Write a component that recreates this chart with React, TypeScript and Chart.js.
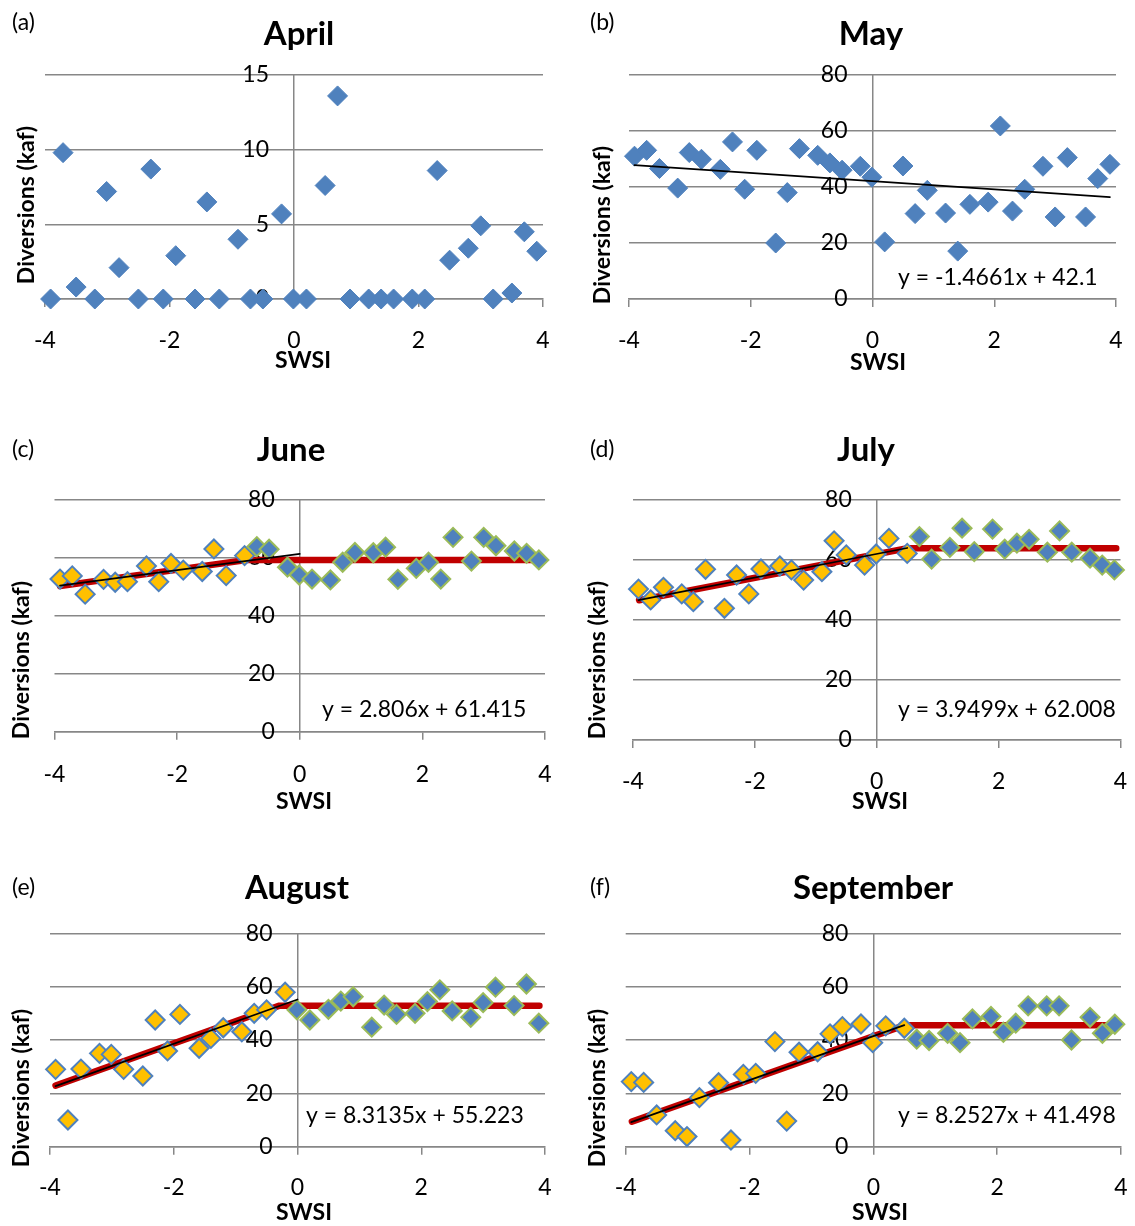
import React, { useEffect, useRef } from "react";
import { Chart, registerables } from "chart.js";

Chart.register(...registerables);

// ---------------- DATA ----------------
const SWSI = [
  -3.91, -3.71, -3.5, -3.2, -3.01, -2.81, -2.5, -2.3, -2.1, -1.9, -1.59, -1.4, -1.2, -0.9, -0.7, -0.5, -0.2, -0.01,
  0.2, 0.5, 0.7, 0.9, 1.2, 1.4, 1.6, 1.9, 2.1, 2.3, 2.5, 2.8, 3.0, 3.2, 3.5, 3.7, 3.9,
];

const APRIL = [
  0, 9.8, 0.8, 0, 7.2, 2.1, 0, 8.7, 0, 2.9, 0, 6.5, 0, 4.0, 0, 0, 5.7, 0,
  0, 7.6, 13.6, 0, 0, 0, 0, 0, 0, 8.6, 2.6, 3.4, 4.9, 0, 0.4, 4.5, 3.2,
];
const MAY = [
  51.0, 53.1, 46.6, 39.6, 52.3, 49.9, 46.3, 56.1, 39.2, 53.1, 20.0, 38.0, 53.7, 51.3, 48.6, 46.0, 47.4, 43.5,
  20.4, 47.5, 30.5, 38.8, 30.7, 17.1, 33.8, 34.6, 61.8, 31.4, 39.2, 47.4, 29.3, 50.5, 29.3, 43.0, 48.1,
];
const JUNE = [
  52.7, 53.8, 47.5, 52.6, 51.6, 51.8, 57.2, 51.8, 58.1, 55.8, 55.3, 63.1, 53.9, 60.8, 63.9, 63.0, 56.8, 54.1,
  52.7, 52.4, 58.5, 61.9, 61.8, 63.7, 52.6, 56.4, 58.5, 52.7, 67.1, 58.9, 67.1, 64.2, 62.4, 61.6, 59.3,
];
const JULY = [
  50.3, 46.7, 50.9, 48.7, 46.1, 56.9, 43.9, 55.0, 48.7, 57.0, 58.0, 56.7, 53.3, 56.1, 66.4, 61.7, 58.3, 62.0,
  67.2, 62.2, 67.8, 60.3, 64.2, 70.6, 62.8, 70.3, 63.6, 65.6, 66.9, 62.6, 69.7, 62.6, 60.6, 58.3, 56.7,
];
const AUGUST = [
  29.0, 10.0, 29.1, 35.0, 34.6, 29.0, 26.5, 47.5, 35.9, 49.6, 36.9, 40.6, 44.6, 43.1, 50.0, 51.3, 57.9, 51.3,
  47.5, 51.5, 54.6, 56.2, 44.8, 53.1, 49.6, 50.0, 54.4, 58.8, 50.9, 48.5, 54.0, 59.8, 52.9, 61.0, 46.3,
];
const SEPTEMBER = [
  24.4, 24.1, 11.9, 6.0, 3.8, 18.4, 24.0, 2.5, 27.1, 27.5, 39.4, 9.6, 35.4, 35.6, 42.3, 45.0, 46.0, 39.0,
  45.3, 44.4, 40.3, 39.8, 42.5, 39.0, 47.9, 48.8, 42.9, 46.3, 52.8, 52.8, 52.8, 40.0, 48.5, 42.5, 45.9,
];

// number of "dry" (yellow) points at the start of each month
const JUNE_SPLIT = 14;
const JULY_SPLIT = 20;
const AUGUST_SPLIT = 17;
const SEPTEMBER_SPLIT = 20;

// piecewise (red) model lines
const JUNE_MODEL_X = [-3.91, -0.87, 3.88];
const JUNE_MODEL_Y = [50.3, 59.3, 59.3];
const JULY_MODEL_X = [-3.9, 0.5, 3.93];
const JULY_MODEL_Y = [46.6, 63.9, 63.9];
const AUGUST_MODEL_X = [-3.91, -0.3, 3.91];
const AUGUST_MODEL_Y = [22.9, 52.8, 52.8];
const SEPTEMBER_MODEL_X = [-3.9, 0.5, 3.93];
const SEPTEMBER_MODEL_Y = [9.4, 45.5, 45.5];

// linear trend (black) lines
const MAY_TREND_X = [-3.91, 3.9];
const MAY_TREND_Y = [47.8, 36.4];
const JUNE_TREND_X = [-3.91, 0.0];
const JUNE_TREND_Y = [50.4, 61.4];
const JULY_TREND_X = [-3.91, 0.5];
const JULY_TREND_Y = [46.6, 64.0];
const AUGUST_TREND_X = [-3.91, 0.0];
const AUGUST_TREND_Y = [22.7, 55.2];
const SEPTEMBER_TREND_X = [-3.91, 0.5];
const SEPTEMBER_TREND_Y = [9.2, 45.6];

const EQUATIONS = {
  may: "y = -1.4661x + 42.1",
  june: "y = 2.806x + 61.415",
  july: "y = 3.9499x + 62.008",
  august: "y = 8.3135x + 55.223",
  september: "y = 8.2527x + 41.498",
};

const X_MIN = -4;
const X_MAX = 4;
const X_STEP = 2;

// ---------------- STYLE ----------------
const FONT = "Lato, 'Open Sans', sans-serif";
const BLUE = "#4F81BD";
const YELLOW = "#FFC000";
const GREEN = "#9BBB59";
const RED = "#C00000";
const GRID = "#878787";

const pts = (xs: number[], ys: number[]) => xs.map((x, i) => ({ x, y: ys[i] }));

function plainSet(vals: number[]) {
  return {
    data: pts(SWSI, vals),
    pointStyle: "rectRot",
    pointRadius: 10,
    backgroundColor: BLUE,
    borderColor: BLUE,
    borderWidth: 1,
    order: 2,
    clip: false,
  };
}
function lineSet(xs: number[], ys: number[], color: string, width: number, order: number) {
  return {
    data: pts(xs, ys),
    showLine: true,
    pointRadius: 0,
    borderColor: color,
    backgroundColor: color,
    borderWidth: width,
    borderCapStyle: "round",
    order,
    clip: false,
  };
}
function splitSets(vals: number[], split: number, mx: number[], my: number[], tx: number[], ty: number[]) {
  return [
    lineSet(mx, my, RED, 6.5, 4),
    {
      data: pts(SWSI.slice(0, split), vals.slice(0, split)),
      pointStyle: "rectRot",
      pointRadius: 9.5,
      backgroundColor: YELLOW,
      borderColor: BLUE,
      borderWidth: 2,
      order: 3,
      clip: false,
    },
    {
      data: pts(SWSI.slice(split), vals.slice(split)),
      pointStyle: "rectRot",
      pointRadius: 9.5,
      backgroundColor: BLUE,
      borderColor: GREEN,
      borderWidth: 2,
      order: 2,
      clip: false,
    },
    lineSet(tx, ty, "#000000", 1.75, 1),
  ];
}

type Panel = {
  key: string;
  letter: string;
  title: string;
  x: number;
  y: number;
  w: number;
  h: number;
  area: { l: number; r: number; t: number; b: number };
  yMax: number;
  yStep: number;
  titleX: number;
  titleY: number;
  letterX: number;
  letterY: number;
  yTitleX: number;
  yTitleY: number;
  swsiX: number;
  swsiY: number;
  labelY: number;
  eq: string | null;
  eqX: number;
  eqY: number;
  datasets: any[];
};

const PANELS: Panel[] = [
  {
    key: "a", letter: "(a)", title: "April", x: 0, y: 0, w: 567, h: 400,
    area: { l: 45, r: 543, t: 75, b: 299 }, yMax: 15, yStep: 5,
    titleX: 299, titleY: 34, letterX: 12, letterY: 23, yTitleX: 27, yTitleY: 205,
    swsiX: 303, swsiY: 361, labelY: 341, eq: null, eqX: 0, eqY: 0,
    datasets: [plainSet(APRIL)],
  },
  {
    key: "b", letter: "(b)", title: "May", x: 567, y: 0, w: 568, h: 400,
    area: { l: 629, r: 1116, t: 75, b: 299 }, yMax: 80, yStep: 20,
    titleX: 871, titleY: 34, letterX: 590, letterY: 23, yTitleX: 603, yTitleY: 225,
    swsiX: 878, swsiY: 363, labelY: 341, eq: EQUATIONS.may, eqX: 898, eqY: 278,
    datasets: [plainSet(MAY), lineSet(MAY_TREND_X, MAY_TREND_Y, "#000000", 1.75, 1)],
  },
  {
    key: "c", letter: "(c)", title: "June", x: 0, y: 400, w: 567, h: 430,
    area: { l: 54.5, r: 545, t: 500, b: 731.7 }, yMax: 80, yStep: 20,
    titleX: 291, titleY: 450, letterX: 12, letterY: 450, yTitleX: 22, yTitleY: 660,
    swsiX: 304, swsiY: 802, labelY: 775, eq: EQUATIONS.june, eqX: 322, eqY: 710,
    datasets: splitSets(JUNE, JUNE_SPLIT, JUNE_MODEL_X, JUNE_MODEL_Y, JUNE_TREND_X, JUNE_TREND_Y),
  },
  {
    key: "d", letter: "(d)", title: "July", x: 567, y: 400, w: 568, h: 430,
    area: { l: 633, r: 1120.5, t: 500, b: 740 }, yMax: 80, yStep: 20,
    titleX: 866, titleY: 450, letterX: 590, letterY: 450, yTitleX: 598, yTitleY: 660,
    swsiX: 880, swsiY: 802, labelY: 782, eq: EQUATIONS.july, eqX: 898, eqY: 710,
    datasets: splitSets(JULY, JULY_SPLIT, JULY_MODEL_X, JULY_MODEL_Y, JULY_TREND_X, JULY_TREND_Y),
  },
  {
    key: "e", letter: "(e)", title: "August", x: 0, y: 830, w: 567, h: 396,
    area: { l: 50, r: 545, t: 933.3, b: 1146.7 }, yMax: 80, yStep: 20,
    titleX: 297, titleY: 888, letterX: 12, letterY: 888, yTitleX: 22, yTitleY: 1088,
    swsiX: 304, swsiY: 1213, labelY: 1188, eq: EQUATIONS.august, eqX: 306, eqY: 1116,
    datasets: splitSets(AUGUST, AUGUST_SPLIT, AUGUST_MODEL_X, AUGUST_MODEL_Y, AUGUST_TREND_X, AUGUST_TREND_Y),
  },
  {
    key: "f", letter: "(f)", title: "September", x: 567, y: 830, w: 568, h: 396,
    area: { l: 625.7, r: 1121, t: 933.3, b: 1146.7 }, yMax: 80, yStep: 20,
    titleX: 873, titleY: 888, letterX: 590, letterY: 888, yTitleX: 598, yTitleY: 1088,
    swsiX: 880, swsiY: 1213, labelY: 1188, eq: EQUATIONS.september, eqX: 898, eqY: 1116,
    datasets: splitSets(SEPTEMBER, SEPTEMBER_SPLIT, SEPTEMBER_MODEL_X, SEPTEMBER_MODEL_Y, SEPTEMBER_TREND_X, SEPTEMBER_TREND_Y),
  },
];

const TICK_SIZE = 23;
const TICK_LH = TICK_SIZE * 1.2;

function makeConfig(p: Panel): any {
  const xAxisH = p.y + p.h - p.area.b;
  const textPlugin = {
    id: "panelText" + p.key,
    beforeDraw(chart: any) {
      const ax = chart.scales.x.getPixelForValue(0);
      chart.scales.y.getLabelItems(chart.chartArea).forEach((it: any) => {
        it.options.translation[0] = ax - 25;
        it.options.textAlign = "right";
      });
      chart.scales.x.getLabelItems(chart.chartArea).forEach((it: any) => {
        it.options.translation[1] = p.labelY - p.y - it.textOffset;
      });
    },
    afterDraw(chart: any) {
      const ctx = chart.ctx as CanvasRenderingContext2D;
      ctx.save();
      ctx.fillStyle = "#000";
      ctx.textBaseline = "middle";
      ctx.font = `${TICK_SIZE}px ${FONT}`;
      ctx.textAlign = "left";
      ctx.fillText(p.letter, p.letterX - p.x, p.letterY - p.y);
      ctx.font = `bold 33px ${FONT}`;
      ctx.textAlign = "center";
      ctx.fillText(p.title, p.titleX - p.x, p.titleY - p.y);
      ctx.font = `bold ${TICK_SIZE}px ${FONT}`;
      ctx.fillText("SWSI", p.swsiX - p.x, p.swsiY - p.y);
      ctx.save();
      ctx.translate(p.yTitleX - p.x, p.yTitleY - p.y);
      ctx.rotate(-Math.PI / 2);
      ctx.fillText("Diversions (kaf)", 0, 0);
      ctx.restore();
      if (p.eq) {
        ctx.font = `${TICK_SIZE}px ${FONT}`;
        ctx.textAlign = "left";
        ctx.fillText(p.eq, p.eqX - p.x, p.eqY - p.y);
      }
      ctx.restore();
    },
  };
  return {
    type: "scatter",
    data: { datasets: p.datasets },
    plugins: [textPlugin],
    options: {
      responsive: false,
      animation: false,
      events: [],
      devicePixelRatio: 1,
      layout: {
        padding: {
          left: p.area.l - p.x,
          right: p.x + p.w - p.area.r,
          top: p.area.t - p.y,
          bottom: 0,
        },
      },
      plugins: { legend: { display: false }, title: { display: false }, tooltip: { enabled: false } },
      scales: {
        x: {
          type: "linear",
          position: "bottom",
          min: X_MIN,
          max: X_MAX,
          ticks: { stepSize: X_STEP, padding: 0, color: "#000", font: { family: FONT, size: TICK_SIZE } },
          grid: { drawOnChartArea: false, drawTicks: true, tickLength: 8, color: GRID, lineWidth: 1.5 },
          border: { display: true, color: GRID, width: 1.5 },
          afterFit: (s: any) => {
            s.height = xAxisH;
          },
        },
        y: {
          type: "linear",
          position: { x: 0 },
          min: 0,
          max: p.yMax,
          ticks: { stepSize: p.yStep, padding: 0, color: "#000", font: { family: FONT, size: TICK_SIZE } },
          grid: { drawOnChartArea: true, drawTicks: false, color: GRID, lineWidth: 1.5 },
          border: { display: true, color: GRID, width: 1.5 },
        },
      },
    },
  };
}

function PanelChart({ p }: { p: Panel }) {
  const ref = useRef<HTMLCanvasElement>(null);
  useEffect(() => {
    const chart = new Chart(ref.current as HTMLCanvasElement, makeConfig(p));
    return () => chart.destroy();
  }, [p]);
  return (
    <canvas
      ref={ref}
      width={p.w}
      height={p.h}
      style={{ position: "absolute", left: p.x, top: p.y, width: p.w, height: p.h }}
    />
  );
}

export default function App() {
  return (
    <div style={{ position: "absolute", left: 0, top: 0, width: 1135, height: 1226, background: "#fff" }}>
      {PANELS.map((p) => (
        <PanelChart key={p.key} p={p} />
      ))}
    </div>
  );
}
